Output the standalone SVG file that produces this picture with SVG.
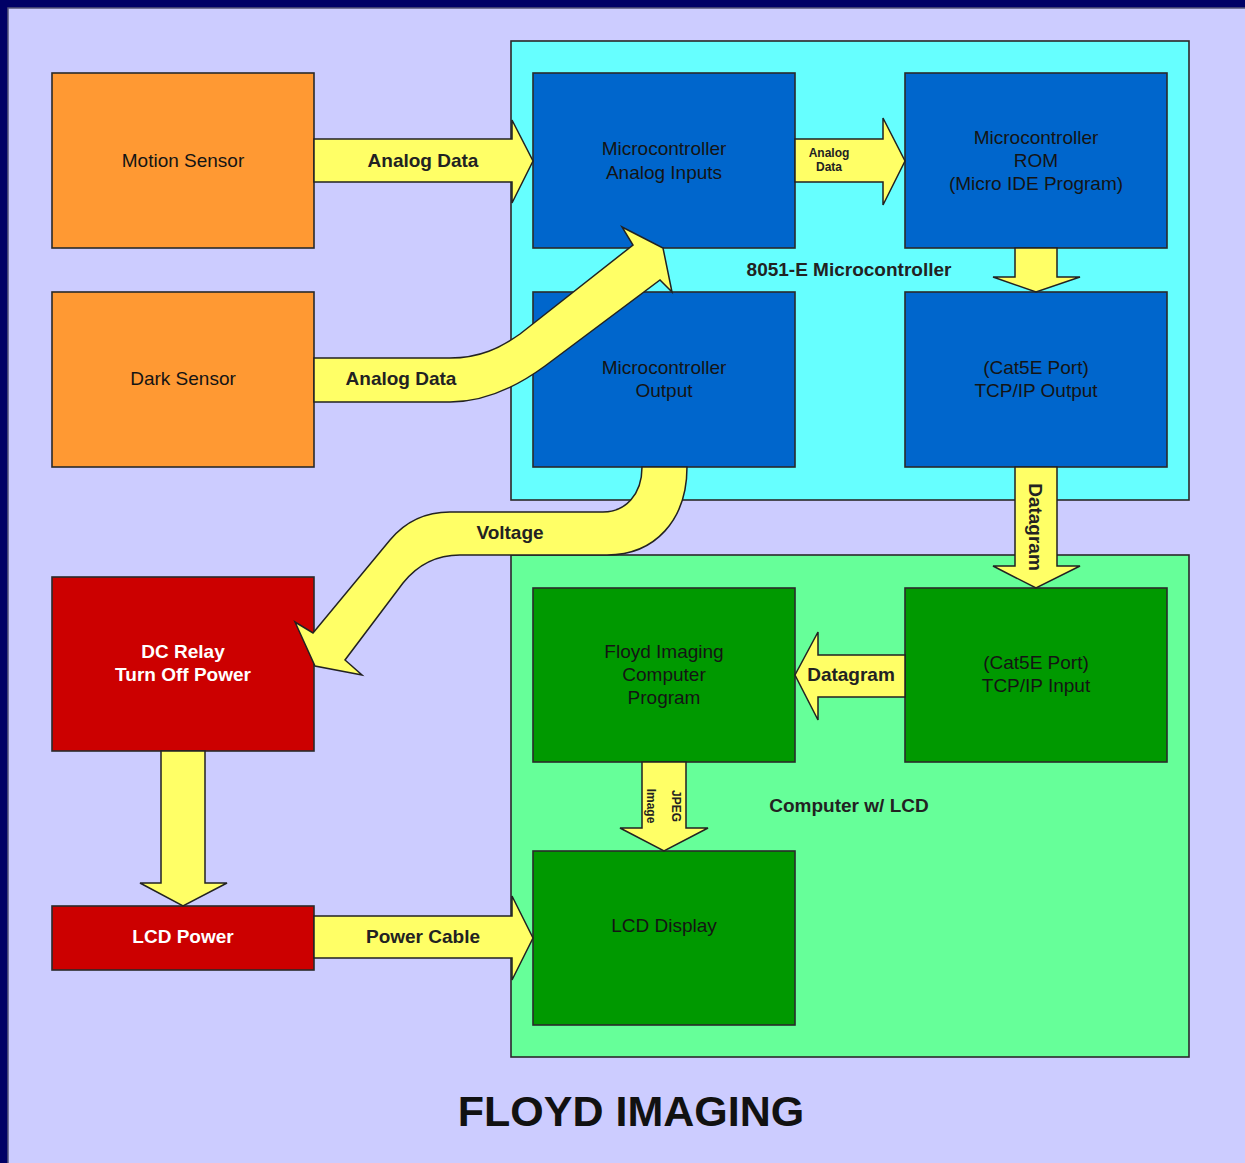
<svg xmlns="http://www.w3.org/2000/svg" width="1245" height="1163" viewBox="0 0 1245 1163">
<style>
.box{stroke:#2a2a2a;stroke-width:1.6}
.orange{fill:#FF9933}
.blue{fill:#0066CC}
.green{fill:#009900}
.red{fill:#CC0000}
.arrow{fill:#FFFF66;stroke:#222;stroke-width:1.5;stroke-linejoin:miter}
text{font-family:"Liberation Sans",Arial,sans-serif;font-size:19px;text-anchor:middle}
.t{fill:#141414}
.w{fill:#ffffff;font-weight:bold}
.lbl{fill:#222;font-weight:bold}
.small{font-size:12px}
</style>
<rect x="0" y="0" width="1245" height="1163" fill="#000066"/>
<rect x="8" y="8" width="1240" height="1160" fill="#CCCCFF" stroke="#55557a" stroke-width="1.5"/>

<g id="micro-container">
<rect x="511" y="41" width="678" height="459" fill="#66FFFF" class="box"/>
<text x="849" y="276" class="lbl">8051-E Microcontroller</text>
</g>
<g id="computer-container">
<rect x="511" y="555" width="678" height="502" fill="#66FF99" class="box"/>
<text x="849" y="812" class="lbl">Computer w/ LCD</text>
</g>

<g id="motion-sensor">
<rect x="52" y="73" width="262" height="175" class="box orange"/>
<text x="183" y="167" class="t">Motion Sensor</text>
</g>
<g id="dark-sensor">
<rect x="52" y="292" width="262" height="175" class="box orange"/>
<text x="183" y="385" class="t">Dark Sensor</text>
</g>
<g id="mc-analog-inputs">
<rect x="533" y="73" width="262" height="175" class="box blue"/>
<text x="664" y="155" class="t">Microcontroller</text>
<text x="664" y="179" class="t">Analog Inputs</text>
</g>
<g id="mc-rom">
<rect x="905" y="73" width="262" height="175" class="box blue"/>
<text x="1036" y="144" class="t">Microcontroller</text>
<text x="1036" y="167" class="t">ROM</text>
<text x="1036" y="190" class="t">(Micro IDE Program)</text>
</g>
<g id="mc-output">
<rect x="533" y="292" width="262" height="175" class="box blue"/>
<text x="664" y="374" class="t">Microcontroller</text>
<text x="664" y="397" class="t">Output</text>
</g>
<g id="tcp-output">
<rect x="905" y="292" width="262" height="175" class="box blue"/>
<text x="1036" y="374" class="t">(Cat5E Port)</text>
<text x="1036" y="397" class="t">TCP/IP Output</text>
</g>
<g id="floyd-program">
<rect x="533" y="588" width="262" height="174" class="box green"/>
<text x="664" y="658" class="t">Floyd Imaging</text>
<text x="664" y="681" class="t">Computer</text>
<text x="664" y="704" class="t">Program</text>
</g>
<g id="tcp-input">
<rect x="905" y="588" width="262" height="174" class="box green"/>
<text x="1036" y="669" class="t">(Cat5E Port)</text>
<text x="1036" y="692" class="t">TCP/IP Input</text>
</g>
<g id="lcd-display">
<rect x="533" y="851" width="262" height="174" class="box green"/>
<text x="664" y="932" class="t">LCD Display</text>
</g>
<g id="dc-relay">
<rect x="52" y="577" width="262" height="174" class="box red"/>
<text x="183" y="658" class="w">DC Relay</text>
<text x="183" y="681" class="w">Turn Off Power</text>
</g>
<g id="lcd-power">
<rect x="52" y="906" width="262" height="64" class="box red"/>
<text x="183" y="943" class="w">LCD Power</text>
</g>

<g id="connectors">
<path class="arrow" d="M314,139 L512,139 L512,120 L533,161 L512,203 L512,182 L314,182 Z"/>
<text x="423" y="167" class="lbl">Analog Data</text>

<path class="arrow" d="M795,139 L883,139 L883,118 L905,161 L883,205 L883,182 L795,182 Z"/>
<text x="829" y="157" class="lbl small">Analog</text>
<text x="829" y="171" class="lbl small">Data</text>

<path class="arrow" d="M1015,248 L1015,277 L993,277 L1036,292 L1080,277 L1057,277 L1057,248 Z"/>

<path class="arrow" d="M1015,467 L1015,566 L993,566 L1036,588 L1080,566 L1057,566 L1057,467 Z"/>
<text transform="translate(1036,527) rotate(90)" x="0" y="7" class="lbl">Datagram</text>

<path class="arrow" d="M905,655 L818,655 L818,632 L795,675 L818,720 L818,697 L905,697 Z"/>
<text x="851" y="681" class="lbl">Datagram</text>

<path class="arrow" d="M642,762 L642,828 L620,828 L664,851 L708,828 L686,828 L686,762 Z"/>
<text transform="translate(664,806) rotate(90)" x="0" y="-8" class="lbl small">JPEG</text>
<text transform="translate(664,806) rotate(90)" x="0" y="17" class="lbl small">Image</text>

<path class="arrow" d="M161,751 L161,883 L140,883 L183,906 L227,883 L205,883 L205,751 Z"/>

<path class="arrow" d="M314,916 L512,916 L512,896 L533,938 L512,980 L512,958 L314,958 Z"/>
<text x="423" y="943" class="lbl">Power Cable</text>

<path class="arrow" d="M314,358 L450,358 C480,358 500,348 520,334 L633,245 L622,227 L663,248 L672,292 L660,280 L545,366 C515,388 482,402 450,402 L314,402 Z"/>
<text x="401" y="385" class="lbl">Analog Data</text>

<path class="arrow" d="M687,467 C687,520 655,555 607,555 L460,555 C432,555 415,568 403,583 L345,660 L362,675 L315,666 L295,622 L313,633 L390,540 C405,522 425,512 450,512 L603,512 C625,512 642,495 642,467 Z"/>
<text x="510" y="539" class="lbl">Voltage</text>
</g>

<g id="title">
<text x="631" y="1126" style="font-size:43px;font-weight:bold;fill:#111">FLOYD IMAGING</text>
</g>
</svg>
